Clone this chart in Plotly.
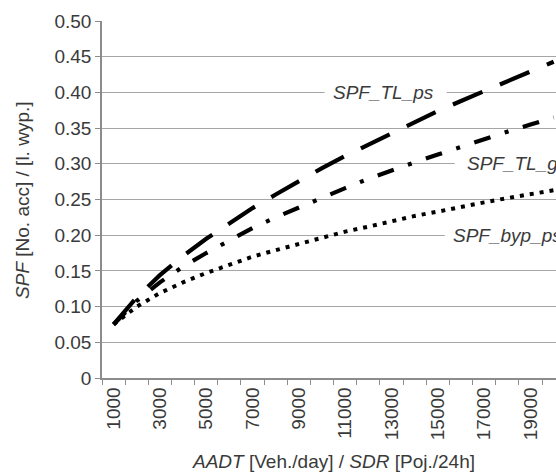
import plotly.graph_objects as go

# ---- data ----
categories = ["1000", "2000", "3000", "4000", "5000", "6000", "7000", "8000", "9000", "10000",
              "11000", "12000", "13000", "14000", "15000", "16000", "17000", "18000", "19000", "20000"]
spf_tl_ps = [0.075, 0.113, 0.144, 0.171, 0.195, 0.217, 0.238, 0.257, 0.276, 0.294,
             0.311, 0.327, 0.343, 0.359, 0.374, 0.388, 0.402, 0.416, 0.430, 0.443]
spf_tl_gs = [0.075, 0.108, 0.134, 0.156, 0.175, 0.193, 0.210, 0.225, 0.239, 0.253,
             0.266, 0.279, 0.291, 0.302, 0.313, 0.324, 0.335, 0.345, 0.355, 0.365]
spf_byp_ps = [0.075, 0.100, 0.119, 0.134, 0.147, 0.159, 0.170, 0.179, 0.188, 0.197,
              0.205, 0.212, 0.220, 0.227, 0.233, 0.240, 0.246, 0.252, 0.258, 0.263]
y_tick_vals = [0, 0.05, 0.10, 0.15, 0.20, 0.25, 0.30, 0.35, 0.40, 0.45, 0.50]
y_tick_text = ["0", "0.05", "0.10", "0.15", "0.20", "0.25", "0.30", "0.35", "0.40", "0.45", "0.50"]

xpos = list(range(len(categories)))
FONT = "Liberation Sans, Arial, sans-serif"
TXT = "#3a3a3a"
GRID = "#a6a6a6"
AX = "#8c8c8c"

fig = go.Figure()
fig.add_trace(go.Scatter(x=xpos, y=spf_tl_ps, mode="lines", name="SPF_TL_ps",
                         line=dict(color="black", width=4.2, dash="32px,19px")))
fig.add_trace(go.Scatter(x=xpos, y=spf_tl_gs, mode="lines", name="SPF_TL_gs",
                         line=dict(color="black", width=4.2, dash="17px,15px,4px,15px")))
fig.add_trace(go.Scatter(x=xpos, y=spf_byp_ps, mode="lines", name="SPF_byp_ps",
                         line=dict(color="black", width=4, dash="4px,6px")))

# white gaps in gridlines behind labels (between gridlines and traces)
gaps = [(9.11, 14.38, 0.40), (14.73, 21, 0.30), (14.30, 21, 0.20)]
for x0, x1, yv in gaps:
    fig.add_shape(type="rect", xref="x", yref="y", x0=x0, x1=x1, y0=yv - 0.01, y1=yv + 0.01,
                  fillcolor="white", line=dict(width=0), layer="between")

lab_font = dict(family=FONT, size=19, color=TXT)
fig.add_annotation(x=11.66, y=0.40, xref="x", yref="y", text="<i>SPF_TL_ps</i>",
                   showarrow=False, xanchor="center", yanchor="middle", font=lab_font)
fig.add_annotation(x=15.16, y=0.30, xref="x", yref="y", text="<i>SPF_TL_gs</i>",
                   showarrow=False, xanchor="left", yanchor="middle", font=lab_font)
fig.add_annotation(x=14.56, y=0.20, xref="x", yref="y", text="<i>SPF_byp_ps</i>",
                   showarrow=False, xanchor="left", yanchor="middle", font=lab_font)

# axis titles
fig.add_annotation(x=0.509, y=-0.235, xref="paper", yref="paper",
                   text="<i>AADT</i> [Veh./day] / <i>SDR</i> [Poj./24h]",
                   showarrow=False, xanchor="center", yanchor="middle", font=lab_font)
fig.add_annotation(x=-0.174, y=0.496, xref="paper", yref="paper",
                   text="<i>SPF</i> [No. acc] / [l. wyp.]", textangle=-90,
                   showarrow=False, xanchor="center", yanchor="middle", font=lab_font)

fig.update_layout(
    width=556, height=474,
    margin=dict(l=102, r=0, t=21, b=96),
    paper_bgcolor="white", plot_bgcolor="white",
    showlegend=False,
    font=dict(family=FONT, size=19, color=TXT),
    xaxis=dict(range=[-0.5, 19.1], tickmode="array",
               tickvals=xpos[::2], ticktext=categories[::2], tickangle=-90,
               ticks="", showgrid=False, zeroline=False, automargin=False,
               showline=True, linecolor=AX, linewidth=1.6,
               tickfont=dict(family=FONT, size=19, color=TXT),
               minor=dict(tickmode="array", tickvals=[p - 0.5 for p in xpos] + [xpos[-1] + 0.5],
                          ticks="outside", ticklen=5, tickcolor=AX, tickwidth=1.3, showgrid=False)),
    yaxis=dict(range=[0, 0.5], tickmode="array", tickvals=y_tick_vals, ticktext=y_tick_text,
               ticks="outside", ticklen=5, tickcolor=AX, tickwidth=1.3, automargin=False,
               showgrid=True, gridcolor=GRID, gridwidth=1.3, zeroline=False,
               showline=True, linecolor=AX, linewidth=1.6,
               tickfont=dict(family=FONT, size=19, color=TXT)),
)

# remove the default page margin so the 556x474 figure fills the window exactly
fig.write_html("out.html", config={"displayModeBar": False}, post_script=(
    "document.body.style.margin='0';"
    "document.body.style.overflow='hidden';"
    "document.documentElement.style.overflow='hidden';"))
